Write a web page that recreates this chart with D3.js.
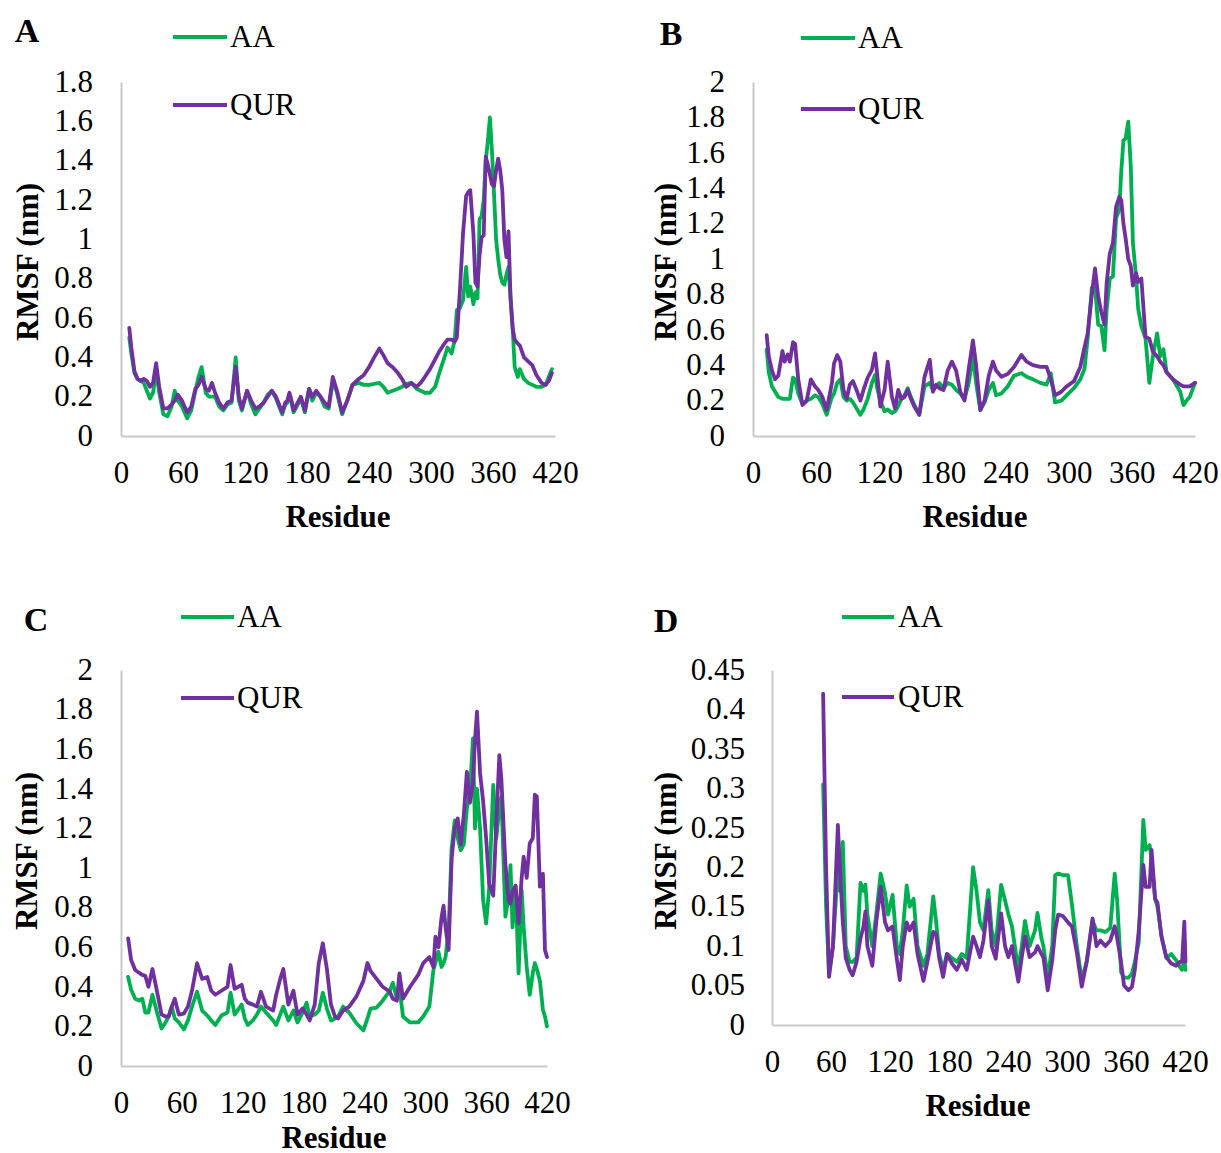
<!DOCTYPE html>
<html>
<head>
<meta charset="utf-8">
<script src="https://cdn.jsdelivr.net/npm/d3@7"></script>
<style>
  html, body { margin: 0; padding: 0; background: #fff; }
  svg { display: block; }
  text { font-family: "Liberation Serif", "Times New Roman", serif; fill: #000; }
</style>
</head>
<body>
<svg id="chart" width="1221" height="1153"></svg>
<script>
// ---------------- DATA ----------------
const seriesNames = ["AA", "QUR"];
const xTicks = [0, 60, 120, 180, 240, 300, 360, 420];

// Panel A
const A_res = [8,10,13,16,19,22,25,28,31,34,37,41,45,49,52,55,59,64,68,72,75,78,82,85,88,91,95,99,103,107,111,114,117,122,126,130,134,138,142,146,150,153,156,159,161,163,165,167,170,174,178,182,185,189,193,197,201,205,209,214,219,224,230,235,240,245,250,254,258,263,268,272,276,281,286,290,294,299,304,308,313,316,320,323,325,328,331,334,336,338,341,343,345,347,349,351,353,355,357,359,361,363,365,367,369,371,373,375,377,379,381,384,386,390,394,398,402,407,411,414,417];
const A_AA  = [0.50,0.42,0.32,0.29,0.28,0.27,0.23,0.19,0.22,0.33,0.22,0.11,0.10,0.15,0.23,0.18,0.15,0.09,0.13,0.23,0.30,0.35,0.22,0.20,0.20,0.20,0.15,0.13,0.16,0.17,0.40,0.18,0.13,0.23,0.16,0.11,0.14,0.17,0.21,0.23,0.19,0.15,0.11,0.16,0.17,0.20,0.17,0.12,0.15,0.19,0.12,0.24,0.18,0.22,0.20,0.15,0.14,0.28,0.22,0.11,0.18,0.26,0.27,0.26,0.26,0.265,0.27,0.25,0.22,0.23,0.24,0.25,0.265,0.27,0.24,0.23,0.22,0.22,0.25,0.32,0.40,0.45,0.42,0.49,0.64,0.65,0.69,0.86,0.71,0.76,0.67,0.73,0.70,1.10,1.12,1.20,1.40,1.50,1.62,1.45,1.23,1.00,0.90,0.82,0.78,0.77,0.82,0.86,0.70,0.55,0.35,0.30,0.34,0.29,0.27,0.26,0.25,0.25,0.26,0.30,0.34];
const A_QUR = [0.55,0.45,0.33,0.29,0.28,0.29,0.28,0.25,0.27,0.37,0.25,0.14,0.14,0.16,0.18,0.21,0.18,0.12,0.15,0.24,0.26,0.30,0.24,0.23,0.27,0.22,0.17,0.14,0.17,0.18,0.35,0.20,0.14,0.23,0.18,0.14,0.15,0.17,0.20,0.23,0.20,0.16,0.12,0.17,0.18,0.22,0.18,0.13,0.16,0.20,0.13,0.24,0.20,0.23,0.20,0.17,0.15,0.30,0.23,0.12,0.18,0.26,0.29,0.31,0.35,0.40,0.445,0.41,0.37,0.35,0.32,0.29,0.25,0.27,0.25,0.27,0.30,0.34,0.39,0.43,0.47,0.49,0.49,0.48,0.50,0.74,1.03,1.22,1.24,1.25,1.03,0.78,0.76,0.92,1.01,1.02,1.42,1.38,1.33,1.28,1.27,1.35,1.41,1.35,1.25,1.00,0.91,1.04,0.70,0.55,0.49,0.47,0.46,0.40,0.38,0.36,0.31,0.27,0.26,0.28,0.32];
const A_yTicks = [0,0.2,0.4,0.6,0.8,1,1.2,1.4,1.6,1.8];

// Panel B
const B_res = [13,15,18,21,24,28,30,33,35,38,40,43,47,51,55,59,62,66,70,75,77,80,83,86,89,92,95,99,102,105,109,113,116,118,121,125,128,132,135,138,141,144,147,150,153,158,163,168,171,174,177,181,185,189,193,197,201,205,209,212,216,220,224,228,231,236,242,248,255,260,266,273,279,283,287,293,298,305,311,315,318,322,325,328,331,334,336,339,342,345,348,350,352,354,356.6,359,361,364,366,369,373,376.6,380,384,387,390,393,399,406,409,412,415,420];
const B_AA  = [0.49,0.36,0.28,0.25,0.22,0.21,0.21,0.21,0.21,0.33,0.32,0.24,0.18,0.20,0.21,0.23,0.22,0.18,0.12,0.22,0.24,0.30,0.32,0.22,0.20,0.21,0.19,0.15,0.12,0.15,0.21,0.30,0.345,0.27,0.20,0.14,0.15,0.13,0.14,0.17,0.21,0.23,0.27,0.22,0.18,0.12,0.28,0.30,0.26,0.28,0.30,0.27,0.30,0.29,0.26,0.24,0.21,0.30,0.45,0.30,0.147,0.19,0.26,0.30,0.23,0.24,0.28,0.34,0.355,0.335,0.32,0.30,0.29,0.355,0.19,0.20,0.23,0.27,0.32,0.38,0.55,0.84,0.84,0.63,0.62,0.485,0.71,0.89,0.90,1.23,1.28,1.50,1.67,1.68,1.776,1.52,1.09,0.90,0.72,0.62,0.55,0.30,0.45,0.58,0.45,0.49,0.36,0.32,0.25,0.175,0.20,0.22,0.30];
const B_QUR = [0.57,0.45,0.37,0.32,0.34,0.48,0.42,0.46,0.42,0.53,0.52,0.32,0.175,0.20,0.32,0.28,0.26,0.22,0.147,0.30,0.41,0.457,0.42,0.26,0.21,0.29,0.31,0.25,0.20,0.26,0.33,0.375,0.467,0.35,0.166,0.26,0.42,0.22,0.156,0.26,0.21,0.22,0.26,0.21,0.17,0.12,0.335,0.43,0.25,0.29,0.27,0.26,0.37,0.42,0.37,0.25,0.20,0.38,0.54,0.40,0.147,0.20,0.34,0.42,0.37,0.335,0.35,0.39,0.458,0.42,0.40,0.39,0.39,0.32,0.23,0.25,0.28,0.31,0.39,0.50,0.58,0.80,0.947,0.79,0.70,0.63,0.86,1.03,1.09,1.295,1.35,1.33,1.20,1.12,1.00,0.96,0.85,0.92,0.87,0.89,0.56,0.55,0.476,0.45,0.42,0.40,0.36,0.32,0.29,0.28,0.28,0.28,0.30];
const B_yTicks = [0,0.2,0.4,0.6,0.8,1,1.2,1.4,1.6,1.8,2];

// Panel C
const C_res = [7,10,14,18,21,24,27,31,35,40,44,47,50,53,57,62,66,70,75,80,85,89,93,99,105,108,112,119,122,125,130,134,138,143,150,153,157,160,165,170,174,179,183,186,191,195,199,203,207,211,214,219,225,232,239,243,246,252,258,265,268,272,274.5,278,285,293,298,304,308,310,313,316,318,320,323,326,329,332,335,338,341,344,347,349,351,354,357,360,363,367,370,373,375,379,382,384,386,389,392,395,397,400,403,406,408,410,413,416,418,420];
const C_AA  = [0.45,0.385,0.34,0.33,0.34,0.27,0.27,0.36,0.28,0.19,0.22,0.25,0.30,0.24,0.22,0.185,0.23,0.30,0.375,0.28,0.255,0.23,0.207,0.255,0.27,0.37,0.26,0.31,0.24,0.207,0.23,0.26,0.30,0.27,0.23,0.207,0.26,0.30,0.23,0.28,0.22,0.27,0.32,0.25,0.26,0.28,0.37,0.29,0.23,0.24,0.25,0.30,0.27,0.216,0.18,0.24,0.29,0.295,0.33,0.38,0.42,0.34,0.40,0.25,0.22,0.22,0.25,0.30,0.485,0.52,0.577,0.50,0.52,0.55,0.687,1.10,1.24,1.15,1.09,1.12,1.30,1.38,1.655,1.20,1.40,1.20,0.84,0.72,0.90,1.42,1.15,1.30,1.36,0.754,0.85,1.015,0.70,0.91,0.468,0.89,0.70,0.50,0.36,0.47,0.52,0.49,0.43,0.283,0.25,0.20];
const C_QUR = [0.645,0.535,0.485,0.47,0.46,0.455,0.40,0.49,0.39,0.26,0.25,0.25,0.30,0.34,0.26,0.265,0.30,0.38,0.519,0.44,0.45,0.38,0.36,0.38,0.40,0.51,0.39,0.41,0.34,0.32,0.31,0.30,0.375,0.30,0.28,0.36,0.44,0.49,0.31,0.38,0.26,0.29,0.26,0.23,0.31,0.52,0.62,0.49,0.31,0.25,0.24,0.28,0.30,0.35,0.43,0.52,0.48,0.44,0.40,0.375,0.34,0.33,0.468,0.34,0.40,0.46,0.52,0.55,0.50,0.653,0.60,0.75,0.81,0.70,0.586,1.05,1.20,1.25,1.12,1.27,1.486,1.33,1.43,1.65,1.79,1.48,1.34,1.15,0.92,0.86,1.225,1.57,1.45,1.02,0.84,0.82,0.88,0.91,0.72,0.95,1.057,0.95,1.125,1.15,1.37,1.36,0.906,0.97,0.586,0.55];
const C_yTicks = [0,0.2,0.4,0.6,0.8,1,1.2,1.4,1.6,1.8,2];

// Panel D
const D_res = [52,55,58,62,67,69,72,75,79,82,86,90,93,95,97,102,106,110.5,115,118,122.6,127,130,133,137,140,144,148,154,158,164,167,170,174,178,183,188,193,198,204.5,208,211.5,215,220,223.4,227.5,233,237,240.4,244,250.5,254,257.3,262,267.5,270,274,276,280.4,285,288,291,296,301,305,310,315,320,326,330,334,339,344,348.5,351,355,358,362.4,366,369,373,377.6,380,384,386,389.6,392,396,401,406,411,414.5,417,419.3,420.5];
const D_AA  = [0.305,0.15,0.065,0.10,0.20,0.17,0.232,0.10,0.08,0.08,0.085,0.18,0.17,0.178,0.14,0.10,0.14,0.192,0.167,0.14,0.165,0.10,0.09,0.12,0.177,0.15,0.16,0.10,0.075,0.09,0.163,0.13,0.09,0.07,0.09,0.085,0.08,0.09,0.085,0.20,0.17,0.13,0.12,0.171,0.12,0.10,0.1775,0.158,0.14,0.125,0.07,0.10,0.132,0.10,0.12,0.142,0.11,0.10,0.06,0.10,0.19,0.192,0.19,0.19,0.153,0.10,0.057,0.08,0.132,0.12,0.12,0.118,0.123,0.192,0.158,0.067,0.06,0.06,0.065,0.08,0.105,0.26,0.222,0.228,0.21,0.16,0.15,0.114,0.085,0.09,0.082,0.074,0.07,0.082,0.07];
const D_QUR = [0.42,0.20,0.061,0.10,0.2535,0.20,0.13,0.085,0.07,0.063,0.08,0.11,0.125,0.144,0.10,0.075,0.13,0.175,0.13,0.12,0.125,0.083,0.057,0.10,0.13,0.12,0.13,0.09,0.056,0.08,0.118,0.115,0.085,0.061,0.09,0.078,0.07,0.083,0.07,0.112,0.10,0.086,0.107,0.158,0.10,0.084,0.1416,0.10,0.086,0.10,0.055,0.086,0.112,0.086,0.092,0.10,0.09,0.086,0.044,0.082,0.12,0.14,0.138,0.13,0.125,0.092,0.0486,0.08,0.135,0.10,0.107,0.10,0.107,0.125,0.11,0.08,0.05,0.044,0.048,0.07,0.12,0.203,0.175,0.175,0.222,0.16,0.155,0.112,0.086,0.078,0.075,0.08,0.08,0.131,0.08];
const D_yTicks = [0,0.05,0.1,0.15,0.2,0.25,0.3,0.35,0.4,0.45];

// ---------------- STYLE / LAYOUT ----------------
const colors = { AA: "#00B050", QUR: "#7030A0" };
const FONT = 31;

const panels = [
  { letter: "A", res: A_res, AA: A_AA, QUR: A_QUR, yTicks: A_yTicks,
    x0: 121, x1: 555, yB: 436, yT: 82, yLabR: 93, xLabY: 473,
    resid: [338, 517], rmsf: [27, 262], let: [27, 30],
    leg: { x0: 173, x1: 227, tx: 230, y: [37, 105] } },
  { letter: "B", res: B_res, AA: B_AA, QUR: B_QUR, yTicks: B_yTicks,
    x0: 753, x1: 1195, yB: 436, yT: 82, yLabR: 725, xLabY: 473,
    resid: [975, 517], rmsf: [665, 262], let: [671, 33],
    leg: { x0: 801, x1: 855, tx: 858, y: [38, 109] } },
  { letter: "C", res: C_res, AA: C_AA, QUR: C_QUR, yTicks: C_yTicks,
    x0: 121, x1: 547, yB: 1066, yT: 670, yLabR: 93, xLabY: 1103,
    resid: [334, 1138], rmsf: [26, 851], let: [36, 619],
    leg: { x0: 181, x1: 234, tx: 237, y: [617, 698] } },
  { letter: "D", res: D_res, AA: D_AA, QUR: D_QUR, yTicks: D_yTicks,
    x0: 772, x1: 1185, yB: 1025, yT: 670, yLabR: 745, xLabY: 1062,
    resid: [978, 1106], rmsf: [665, 851], let: [666, 620],
    leg: { x0: 842, x1: 894, tx: 898, y: [617, 697] } }
];

const svg = d3.select("#chart");
const fmt = v => String(+v.toFixed(2));

panels.forEach(p => {
  const g = svg.append("g");
  const yMax = p.yTicks[p.yTicks.length - 1];
  const x = d3.scaleLinear().domain([0, 420]).range([p.x0, p.x1]);
  const y = d3.scaleLinear().domain([0, yMax]).range([p.yB, p.yT]);

  // axes lines (no tick marks)
  const xAxis = d3.axisBottom(x).tickValues(xTicks).tickSize(0).tickPadding(0).tickFormat(d3.format("d"));
  const xa = g.append("g").attr("transform", `translate(0,${p.yB})`).call(xAxis);
  xa.select(".domain").attr("stroke", "#c9c9c9").attr("stroke-width", 2);
  xa.selectAll("text").attr("y", p.xLabY - p.yB).attr("dy", "0.33em")
    .style("font-size", FONT + "px").style("font-family", "Liberation Serif").attr("fill", "#000");

  const yAxis = d3.axisLeft(y).tickValues(p.yTicks).tickSize(0).tickPadding(0).tickFormat(fmt);
  const ya = g.append("g").attr("transform", `translate(${p.x0},0)`).call(yAxis);
  ya.select(".domain").attr("stroke", "#c9c9c9").attr("stroke-width", 2);
  ya.selectAll("text").attr("x", p.yLabR - p.x0).attr("dy", "0.3em")
    .style("font-size", FONT + "px").style("font-family", "Liberation Serif").attr("fill", "#000");

  // lines
  seriesNames.forEach(s => {
    const line = d3.line().x((d, i) => x(p.res[i])).y(d => y(d));
    g.append("path").datum(p[s]).attr("d", line)
      .attr("fill", "none").attr("stroke", colors[s]).attr("stroke-width", 3.8)
      .attr("stroke-linejoin", "round").attr("stroke-linecap", "round");
  });

  // legend
  seriesNames.forEach((s, i) => {
    g.append("line").attr("x1", p.leg.x0).attr("x2", p.leg.x1)
      .attr("y1", p.leg.y[i]).attr("y2", p.leg.y[i])
      .attr("stroke", colors[s]).attr("stroke-width", 3.8);
    g.append("text").attr("x", p.leg.tx).attr("y", p.leg.y[i]).attr("dy", "0.33em")
      .style("font-size", FONT + "px").text(s);
  });

  // titles
  g.append("text").attr("x", p.resid[0]).attr("y", p.resid[1]).attr("dy", "0.33em")
    .attr("text-anchor", "middle").style("font-size", FONT + "px").style("font-weight", "bold").text("Residue");
  g.append("text").attr("transform", `translate(${p.rmsf[0]},${p.rmsf[1]}) rotate(-90)`)
    .attr("dy", "0.35em").attr("text-anchor", "middle")
    .style("font-size", FONT + "px").style("font-weight", "bold").text("RMSF (nm)");
  g.append("text").attr("x", p.let[0]).attr("y", p.let[1]).attr("dy", "0.35em")
    .attr("text-anchor", "middle").style("font-size", "34px").style("font-weight", "bold").text(p.letter);
});
</script>
</body>
</html>
